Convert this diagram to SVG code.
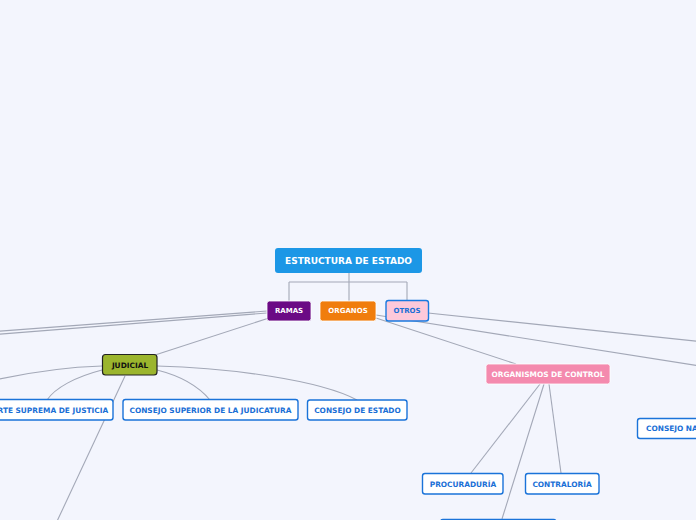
<svg xmlns="http://www.w3.org/2000/svg" width="696" height="520" viewBox="0 0 696 520">
<style>
.c{fill:none;stroke:#a3a8b7;stroke-width:1.1}
.t{font-family:"DejaVu Sans",Verdana,sans-serif;font-weight:bold;text-anchor:middle;dominant-baseline:central}
.leaf rect{fill:#ffffff;stroke:#1a73d9;stroke-width:1.4}
.leaf text{fill:#1a6fd6;font-size:7.4px}
</style>
<rect width="696" height="520" fill="#f3f5fd"/>
<g id="connectors">
<path class="c" d="M349,273 V282 M289,282 H407 M289,282 V301 M349,282 V301 M407,282 V300" stroke-width="1.4"/>
<path class="c" d="M267,311 L-5,331.5"/>
<path class="c" d="M267,313 L-5,334.5"/>
<path class="c" d="M269,318 L152,356"/>
<path class="c" d="M376,315 L700,366"/>
<path class="c" d="M376,318 L516,364"/>
<path class="c" d="M428,313 L700,341.5"/>
<path class="c" d="M102,366 C70,367 30,372 -10,381" stroke-width="1.4"/>
<path class="c" d="M157,366 C230,368 320,380 357,400" stroke-width="1.4"/>
<path class="c" d="M102,370 C75,377 55,388 47,400"/>
<path class="c" d="M157,370 C185,377 200,388 210,400"/>
<path class="c" d="M125,376 L52,532"/>
<path class="c" d="M540,384 L471,473"/>
<path class="c" d="M544,384 L502,519"/>
<path class="c" d="M549,384 L561,473"/>
</g>
<g id="root">
<rect x="275" y="248" width="147" height="25" rx="3" fill="#1c97e6"/>
<text class="t" x="348.5" y="260.5" fill="#ffffff" font-size="9px">ESTRUCTURA DE ESTADO</text>
</g>
<g id="ramas">
<rect x="267" y="301" width="44" height="20" rx="2.5" fill="#6b0a85" stroke="#ffffff" stroke-width="0.8"/>
<text class="t" x="289" y="311" fill="#ffffff" font-size="7px">RAMAS</text>
</g>
<g id="organos">
<rect x="320" y="301" width="56" height="20" rx="2.5" fill="#f07d0d" stroke="#ffffff" stroke-width="0.8"/>
<text class="t" x="348" y="311" fill="#ffffff" font-size="7px">ORGANOS</text>
</g>
<g id="otros">
<rect x="386" y="300.5" width="42.5" height="20.5" rx="2.5" fill="#fdc9da" stroke="#1a7ae0" stroke-width="1.4"/>
<text class="t" x="407" y="311" fill="#1a6fd6" font-size="7px">OTROS</text>
</g>
<g id="judicial">
<rect x="102.5" y="354.5" width="54.5" height="20.5" rx="3" fill="#9bb52d" stroke="#222222" stroke-width="1.2"/>
<text class="t" x="130" y="365" fill="#111111" font-size="7.4px">JUDICIAL</text>
</g>
<g id="corte" class="leaf">
<rect x="-18" y="399.5" width="131" height="20.5" rx="2.5"/>
<text class="t" x="47" y="410">CORTE SUPREMA DE JUSTICIA</text>
</g>
<g id="consejo-superior" class="leaf">
<rect x="123" y="399.5" width="175" height="20.5" rx="2.5"/>
<text class="t" x="210.5" y="410">CONSEJO SUPERIOR DE LA JUDICATURA</text>
</g>
<g id="consejo-estado" class="leaf">
<rect x="307.5" y="400" width="99.5" height="20" rx="2.5"/>
<text class="t" x="357.5" y="410">CONSEJO DE ESTADO</text>
</g>
<g id="organismos">
<rect x="486" y="364" width="124" height="20" rx="2.5" fill="#f48aae" stroke="#ffffff" stroke-width="0.8"/>
<text class="t" x="548" y="374" fill="#ffffff" font-size="7.4px">ORGANISMOS DE CONTROL</text>
</g>
<g id="procuraduria" class="leaf">
<rect x="422.5" y="473.5" width="80.5" height="20.5" rx="2.5"/>
<text class="t" x="463" y="484">PROCURADURÍA</text>
</g>
<g id="contraloria" class="leaf">
<rect x="525.5" y="473.5" width="73.5" height="20.5" rx="2.5"/>
<text class="t" x="562" y="484">CONTRALORÍA</text>
</g>
<g id="consejo-nacional" class="leaf">
<rect x="637.5" y="418.5" width="130" height="20" rx="2.5"/>
<text class="t" x="646" y="428.5" style="text-anchor:start">CONSEJO NACIONAL ELECTORAL</text>
</g>
<g id="bottom-node" class="leaf">
<rect x="440.5" y="519.5" width="115.5" height="20" rx="2.5"/>
</g>
</svg>
